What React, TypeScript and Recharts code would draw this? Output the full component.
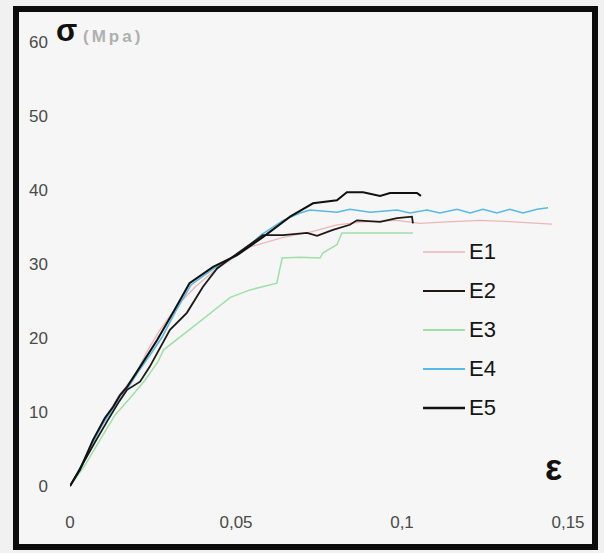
import React from 'react';
import { LineChart, Line, XAxis, YAxis, Legend } from 'recharts';

// strain (ε) / stress (σ, MPa)
const e1Strain = [0, 0.003, 0.006, 0.0105, 0.0145, 0.0196, 0.0235, 0.0271, 0.0325, 0.0377, 0.0437, 0.0542, 0.0642, 0.0723, 0.0804, 0.0883, 0.0985, 0.1054, 0.1136, 0.1235, 0.1334, 0.1452];
const e1Stress = [0, 2.4, 5.1, 8.9, 12.1, 15, 18.4, 21.1, 24.5, 26.9, 29.2, 32.3, 33.6, 34.3, 35.3, 35.7, 35.9, 35.5, 35.7, 35.9, 35.7, 35.4];

const e2Strain = [0, 0.0036, 0.0075, 0.0114, 0.0145, 0.0172, 0.0211, 0.024, 0.0301, 0.0352, 0.04, 0.0443, 0.0503, 0.0581, 0.0642, 0.0714, 0.0744, 0.0792, 0.0843, 0.0864, 0.0934, 0.0985, 0.103, 0.1033];
const e2Stress = [0, 2.8, 5.9, 8.9, 11.2, 13, 14.1, 16.1, 21.1, 23.4, 26.9, 29.4, 31.4, 33.9, 33.9, 34.2, 33.8, 34.6, 35.3, 35.9, 35.7, 36.2, 36.4, 35.5];

const e3Strain = [0, 0.0045, 0.009, 0.0136, 0.0181, 0.0226, 0.0265, 0.0282, 0.0385, 0.0483, 0.0542, 0.0623, 0.0639, 0.0693, 0.0753, 0.0762, 0.0804, 0.0819, 0.1033];
const e3Stress = [0, 2.8, 6.2, 9.6, 11.9, 14.3, 16.8, 18.4, 22, 25.5, 26.5, 27.4, 30.8, 30.9, 30.8, 31.5, 32.6, 34.2, 34.2];

const e4Strain = [0, 0.0024, 0.006, 0.0096, 0.0127, 0.0166, 0.0205, 0.0241, 0.0277, 0.0318, 0.0365, 0.0437, 0.0512, 0.0578, 0.0642, 0.0693, 0.0723, 0.0804, 0.0843, 0.0904, 0.0985, 0.1024, 0.1075, 0.1114, 0.1166, 0.1205, 0.1244, 0.1286, 0.1325, 0.1364, 0.1407, 0.144];
const e4Stress = [0, 1.9, 5.1, 8.2, 10.3, 12.7, 15.4, 17.7, 20.1, 23.6, 27.2, 29.5, 31.4, 34.0, 35.9, 36.9, 37.3, 37, 37.4, 37, 37.3, 36.9, 37.3, 36.9, 37.4, 36.9, 37.4, 36.9, 37.4, 36.9, 37.4, 37.6];

const e5Strain = [0, 0.003, 0.0069, 0.0105, 0.013, 0.0151, 0.0172, 0.0211, 0.0262, 0.031, 0.036, 0.0431, 0.0503, 0.058, 0.0663, 0.0732, 0.0804, 0.0834, 0.0883, 0.0934, 0.0964, 0.1045, 0.1057];
const e5Stress = [0, 2.2, 6.2, 9.2, 10.7, 12.3, 13.4, 16.1, 19.7, 23.4, 27.4, 29.6, 31.2, 33.6, 36.4, 38.2, 38.6, 39.7, 39.7, 39.2, 39.6, 39.6, 39.2];

const xTicks = [0, 0.05, 0.1, 0.15];
const yTicks = [0, 10, 20, 30, 40, 50, 60];

const toPoints = (strain: number[], stress: number[]) =>
  strain.map((e, i) => ({ e, s: stress[i] }));

const series = [
  { name: 'E1', data: toPoints(e1Strain, e1Stress), color: '#ecb6b8', width: 1.3 },
  { name: 'E2', data: toPoints(e2Strain, e2Stress), color: '#1d1a16', width: 1.8 },
  { name: 'E3', data: toPoints(e3Strain, e3Stress), color: '#9fe0a6', width: 1.5 },
  { name: 'E4', data: toPoints(e4Strain, e4Stress), color: '#58b9e2', width: 1.6 },
  { name: 'E5', data: toPoints(e5Strain, e5Stress), color: '#111111', width: 2 },
];

const drawOrder = ['E1', 'E3', 'E4', 'E2', 'E5'];

const fmtX = (v: number) => String(v).replace('.', ',');

const LegendBox = () => (
  <div style={{ fontFamily: 'Liberation Sans, Arial, sans-serif' }}>
    {series.map((s) => (
      <div key={s.name} style={{ display: 'flex', alignItems: 'center', height: 39 }}>
        <svg width={42} height={6}>
          <line x1={0} y1={3} x2={42} y2={3} stroke={s.color} strokeWidth={s.width + 0.4} />
        </svg>
        <span style={{ fontSize: 22, color: '#151515', marginLeft: 4, lineHeight: '22px' }}>{s.name}</span>
      </div>
    ))}
  </div>
);

export default function App() {
  return (
    <div style={{ position: 'absolute', left: 0, top: 0, width: 604, height: 553, background: '#f1f1f1' }}>
      <div
        style={{
          position: 'absolute',
          left: 13,
          top: 6,
          width: 585,
          height: 544,
          border: '6px solid #0d0d0d',
          boxSizing: 'border-box',
          background: '#f6f6f6',
        }}
      />
      <div style={{ position: 'absolute', left: 0, top: 0 }}>
        <LineChart width={604} height={553} margin={{ top: 42, right: 36, left: 20, bottom: 37 }}>
          <XAxis
            dataKey="e"
            type="number"
            domain={[0, 0.15]}
            ticks={xTicks}
            tickFormatter={fmtX}
            axisLine={false}
            tickLine={false}
            height={30}
            tickMargin={24}
            allowDataOverflow
            tick={{ fontSize: 17, fill: '#4a4a4a', fontFamily: 'Liberation Sans, Arial, sans-serif' }}
          />
          <YAxis
            type="number"
            domain={[0, 60]}
            ticks={yTicks}
            axisLine={false}
            tickLine={false}
            width={50}
            tickMargin={16}
            tick={{ fontSize: 17, fill: '#4a4a4a', fontFamily: 'Liberation Sans, Arial, sans-serif' }}
          />
          <Legend
            layout="vertical"
            align="center"
            verticalAlign="middle"
            content={<LegendBox />}
            wrapperStyle={{ position: 'absolute', left: 423, top: 232, width: 120 }}
          />
          {drawOrder.map((n) => {
            const s = series.find((x) => x.name === n)!;
            return (
              <Line
                key={s.name}
                name={s.name}
                data={s.data}
                dataKey="s"
                type="linear"
                stroke={s.color}
                strokeWidth={s.width}
                dot={false}
                activeDot={false}
                isAnimationActive={false}
              />
            );
          })}
        </LineChart>
      </div>
      <svg width={604} height={553} style={{ position: 'absolute', left: 0, top: 0, pointerEvents: 'none' }}>
        <text x={56} y={41} fontSize={31} fontWeight="bold" fill="#111" fontFamily="Liberation Sans, Arial, sans-serif">σ</text>
        <text x={83} y={42} fontSize={17} fontWeight="bold" fill="#b0b0b0" letterSpacing={3} fontFamily="Liberation Sans, Arial, sans-serif">(Mpa)</text>
        <text x={545} y={480} fontSize={36} fontWeight="bold" fill="#111" fontFamily="Liberation Sans, Arial, sans-serif">ε</text>
      </svg>
    </div>
  );
}
